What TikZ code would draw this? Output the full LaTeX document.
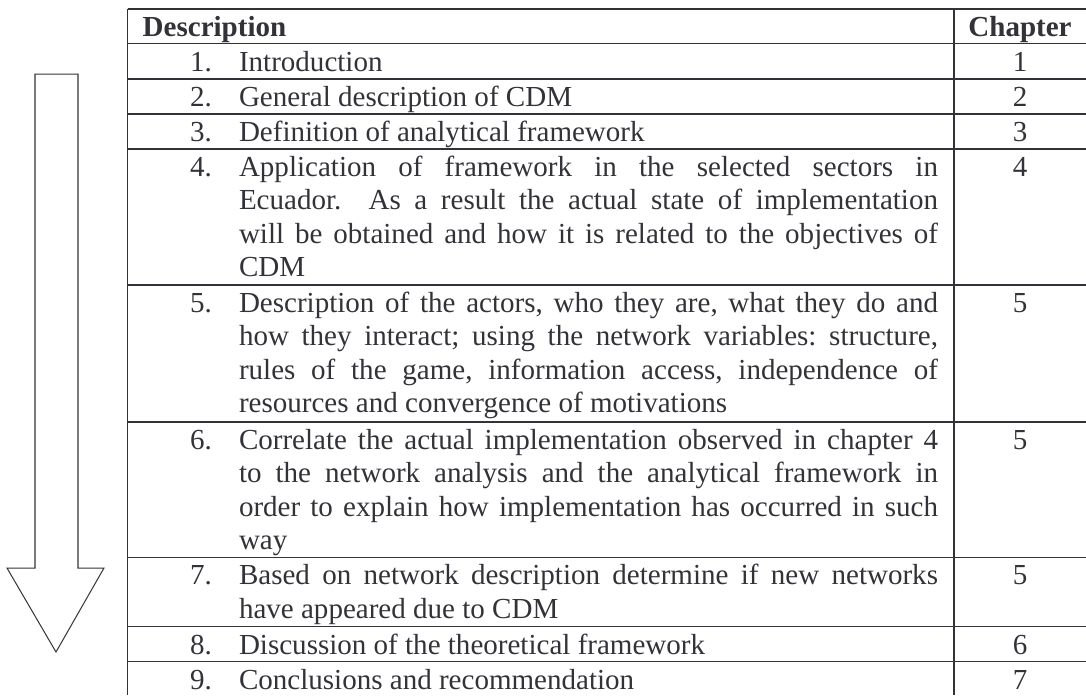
\documentclass[tikz,border=0pt]{standalone}
\usepackage{fontspec}
\setmainfont{Liberation Serif}
\frenchspacing
\definecolor{ink}{RGB}{50,50,56}
% one justified line of a description cell
\newcommand{\jline}[1]{\makebox[288.84pt][s]{#1}}
\begin{document}
\begin{tikzpicture}[x=0.41322pt,y=-0.41322pt,
  txt/.style={anchor=base west,inner sep=0pt,outer sep=0pt,text=ink,
              font=\fontsize{12}{13.8}\selectfont},
  head/.style={txt,font=\fontsize{12}{13.8}\selectfont\bfseries},
  chap/.style={anchor=base,inner sep=0pt,outer sep=0pt,text=ink,
               font=\fontsize{12}{13.8}\selectfont},
  chaphead/.style={chap,font=\fontsize{12}{13.8}\selectfont\bfseries},
  rule/.style={draw=ink,line width=0.55pt},
  flow/.style={draw=ink,line width=0.42pt,line join=miter}]
\useasboundingbox (0,0) rectangle (1086,695);

% down arrow beside the table
\draw[flow] (35,74) -- (78,74) -- (78,568) -- (104,568) -- (56,652)
            -- (7,568) -- (35,568) -- cycle;

% table rules
\foreach \y in {9,43.7,79,114,149,285,422,557.3,626.7,661.7}
  \draw[rule] (127.7,\y) -- (1086,\y);
\draw[rule] (127.7,9) -- (127.7,695);
\draw[rule] (954,9) -- (954,695);

% header
\node[head] (hdesc) at (142.7,36.5) {Description};
\node[chaphead] (hchap) at (1020,36.5) {Chapter};

% row 1
\node[txt] (n1) at (190,71.2) {1.};
\node[txt] (d1) at (239,71.2) {Introduction};
\node[chap] (c1) at (1020,71.2) {1};
% row 2
\node[txt] (n2) at (190,106.5) {2.};
\node[txt] (d2) at (239,106.5) {General description of CDM};
\node[chap] (c2) at (1020,106.5) {2};
% row 3
\node[txt] (n3) at (190,141.5) {3.};
\node[txt] (d3) at (239,141.5) {Definition of analytical framework};
\node[chap] (c3) at (1020,141.5) {3};
% row 4
\node[txt] (n4) at (190,176.5) {4.};
\node[txt] (d4a) at (239,176.5) {\jline{Application of framework in the selected sectors in}};
\node[txt] (d4b) at (239,209.9) {\jline{Ecuador.\ \ As a result the actual state of implementation}};
\node[txt] (d4c) at (239,243.3) {\jline{will be obtained and how it is related to the objectives of}};
\node[txt] (d4d) at (239,276.7) {CDM};
\node[chap] (c4) at (1020,176.5) {4};
% row 5
\node[txt] (n5) at (190,312.5) {5.};
\node[txt] (d5a) at (239,312.5) {\jline{Description of the actors, who they are, what they do and}};
\node[txt] (d5b) at (239,345.9) {\jline{how they interact; using the network variables: structure,}};
\node[txt] (d5c) at (239,379.3) {\jline{rules of the game, information access, independence of}};
\node[txt] (d5d) at (239,412.7) {resources and convergence of motivations};
\node[chap] (c5) at (1020,312.5) {5};
% row 6
\node[txt] (n6) at (190,449.5) {6.};
\node[txt] (d6a) at (239,449.5) {\jline{Correlate the actual implementation observed in chapter 4}};
\node[txt] (d6b) at (239,482.9) {\jline{to the network analysis and the analytical framework in}};
\node[txt] (d6c) at (239,516.3) {\jline{order to explain how implementation has occurred in such}};
\node[txt] (d6d) at (239,549.7) {way};
\node[chap] (c6) at (1020,449.5) {5};
% row 7
\node[txt] (n7) at (190,584.8) {7.};
\node[txt] (d7a) at (239,584.8) {\jline{Based on network description determine if new networks}};
\node[txt] (d7b) at (239,618.2) {have appeared due to CDM};
\node[chap] (c7) at (1020,584.8) {5};
% row 8
\node[txt] (n8) at (190,654.2) {8.};
\node[txt] (d8) at (239,654.2) {Discussion of the theoretical framework};
\node[chap] (c8) at (1020,654.2) {6};
% row 9
\node[txt] (n9) at (190,689.2) {9.};
\node[txt] (d9) at (239,689.2) {Conclusions and recommendation};
\node[chap] (c9) at (1020,689.2) {7};
\end{tikzpicture}
\end{document}
